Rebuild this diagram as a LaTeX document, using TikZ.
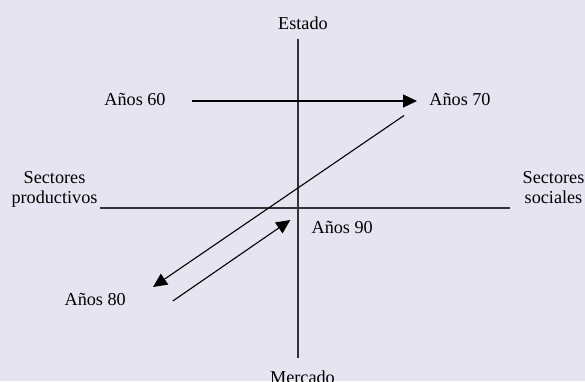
\documentclass[tikz,border=0pt]{standalone}
\usepackage{fontspec}
\setmainfont{Liberation Serif}
\usetikzlibrary{arrows.meta}
\definecolor{bgcol}{RGB}{230,228,240}
\tikzset{
  lbl/.style={inner sep=0pt, anchor=base, font=\fontsize{18.2}{20}\selectfont},
  axis/.style={line width=1.3pt, draw=black!80},
  conn/.style={line width=1.1pt, draw=black, -{Triangle[length=14pt,width=13pt]}},
}
\begin{document}
\begin{tikzpicture}[x=1pt,y=-1pt]
\fill[bgcol] (0,0) rectangle (585,381);
\useasboundingbox (0,0) rectangle (585,381);
% labels
\node[lbl] (estado) at (303,29.3) {Estado};
\node[lbl] (mercado) at (302.5,383.5) {Mercado};
\node[lbl] (a60) at (135,105) {Años 60};
\node[lbl] (a70) at (460,105) {Años 70};
\node[lbl] (a80) at (95.2,305.7) {Años 80};
\node[lbl] (a90) at (342.2,233.3) {Años 90};
\node[lbl, align=center] (sp) at (54.5,203.3) {Sectores\\[-0.4pt]productivos};
\node[lbl, align=center] (ss) at (553.5,203.3) {Sectores\\[-0.4pt]sociales};
% axes
\coordinate (vtop) at (298,39);
\coordinate (vbot) at (298,357.5);
\coordinate (hl) at (100,208);
\coordinate (hr) at (510,208);
\draw[axis] (vtop) -- (vbot);
\draw[axis] (hl) -- (hr);
% arrows
\coordinate (p60) at (191.8,101);
\coordinate (p70) at (417,101);
\coordinate (q70) at (404,115.5);
\coordinate (q80) at (153,287);
\coordinate (r80) at (172.8,301);
\coordinate (r90) at (290.3,220);
\draw[conn] (p60) -- (p70);
\draw[conn] (q70) -- (q80);
\draw[conn] (r80) -- (r90);
\end{tikzpicture}
\end{document}
